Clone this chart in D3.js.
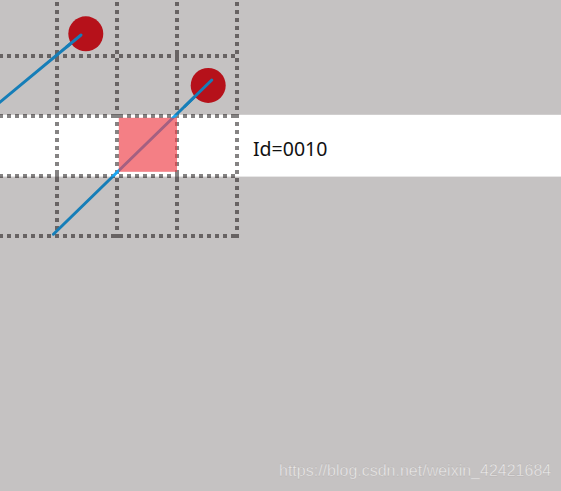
<!DOCTYPE html>
<html>
<head>
<meta charset="utf-8">
<script src="https://cdn.jsdelivr.net/npm/d3@7"></script>
<style>
  html, body { margin: 0; padding: 0; background: #fff; }
  svg { display: block; }
</style>
</head>
<body>
<svg></svg>
<script>
// grid is in cell units, one cell = 60px
var gridTicks = [0, 1, 2, 3, 4];
var nodeX = [1.48, 3.52];
var nodeY = [0.63, 1.49];
var segStartX = [0.0, 0.94];
var segStartY = [1.81, 3.97];
var segEndX = [1.40, 3.58];
var segEndY = [0.65, 1.40];
var cellBox = [2.03, 2.03, 3.0, 2.93]; // x0, y0, x1, y1 of the selected cell
var bandRows = [1.98, 3.01];           // top / bottom of highlighted row
var label = "Id=0010";
var watermark = "https://blog.csdn.net/weixin_42421684";

var svgWidth = 561, svgHeight = 491;
var svg = d3.select('svg')
    .attr('width', svgWidth)
    .attr('height', svgHeight);

var x = d3.scaleLinear().domain([0, 4]).range([-3, 237]);
var y = d3.scaleLinear().domain([0, 4]).range([-4, 236]);

var grid = svg.append('g')
    .attr('stroke', '#858383')
    .attr('stroke-width', 4)
    .attr('stroke-dasharray', '4,4');

grid.selectAll('line.h')
    .data(gridTicks.slice(1))
    .enter()
    .append('line')
    .attr('class', 'h')
    .attr('x1', -1)
    .attr('x2', x(4) + 2)
    .attr('y1', function(d) { return y(d); })
    .attr('y2', function(d) { return y(d); });

grid.selectAll('line.v')
    .data(gridTicks.slice(1))
    .enter()
    .append('line')
    .attr('class', 'v')
    .attr('x1', function(d) { return x(d); })
    .attr('x2', function(d) { return x(d); })
    .attr('y1', -6)
    .attr('y2', y(4) + 2);

// segments between nodes
svg.selectAll('line.seg')
    .data(segStartX)
    .enter()
    .append('line')
    .attr('class', 'seg')
    .attr('x1', function(d, i) { return x(segStartX[i]); })
    .attr('y1', function(d, i) { return y(segStartY[i]); })
    .attr('x2', function(d, i) { return x(segEndX[i]); })
    .attr('y2', function(d, i) { return y(segEndY[i]); })
    .attr('stroke', '#1aa6f2')
    .attr('stroke-width', 3)
    .attr('stroke-linecap', 'round');

// selected cell, see-through over the segment
svg.append('rect')
    .attr('x', x(cellBox[0]))
    .attr('y', y(cellBox[1]))
    .attr('width', x(cellBox[2]) - x(cellBox[0]))
    .attr('height', y(cellBox[3]) - y(cellBox[1]))
    .attr('fill', '#ee3a44')
    .attr('fill-opacity', 0.65);

svg.selectAll('circle')
    .data(nodeX)
    .enter()
    .append('circle')
    .attr('cx', function(d) { return x(d); })
    .attr('cy', function(d, i) { return y(nodeY[i]); })
    .attr('r', 17.5)
    .attr('fill', '#eb1723');

// segment end goes on top of the node
svg.selectAll('line.tip')
    .data(segEndX)
    .enter()
    .append('line')
    .attr('x1', function(d, i) { return x(segEndX[i]); })
    .attr('y1', function(d, i) { return y(segEndY[i]); })
    .attr('x2', function(d, i) { return x(segEndX[i] - (segEndX[i] - segStartX[i]) * 0.17); })
    .attr('y2', function(d, i) { return y(segEndY[i] - (segEndY[i] - segStartY[i]) * 0.17); })
    .attr('stroke', '#1aa6f2')
    .attr('stroke-width', 3)
    .attr('stroke-linecap', 'round');

// dark mask everywhere except the highlighted row
var mask = svg.append('g')
    .attr('fill', 'rgb(14,0,0)')
    .attr('fill-opacity', 0.24);
mask.append('rect')
    .attr('x', 0).attr('y', 0)
    .attr('width', svgWidth)
    .attr('height', y(bandRows[0]));
mask.append('rect')
    .attr('x', 0).attr('y', y(bandRows[1]))
    .attr('width', svgWidth)
    .attr('height', svgHeight - y(bandRows[1]));

svg.append('text')
    .text(label)
    .attr('x', 253)
    .attr('y', 156)
    .attr('font-family', '"Noto Sans", sans-serif')
    .attr('font-size', 19.5)
    .attr('fill', '#111');

svg.append('text')
    .text(watermark)
    .attr('x', 279)
    .attr('y', 476)
    .attr('font-family', '"Liberation Sans", Arial, sans-serif')
    .attr('font-size', 16)
    .attr('fill', '#ecebeb')
    .attr('stroke', '#b0acab')
    .attr('stroke-width', 0.3);
</script>
</body>
</html>
